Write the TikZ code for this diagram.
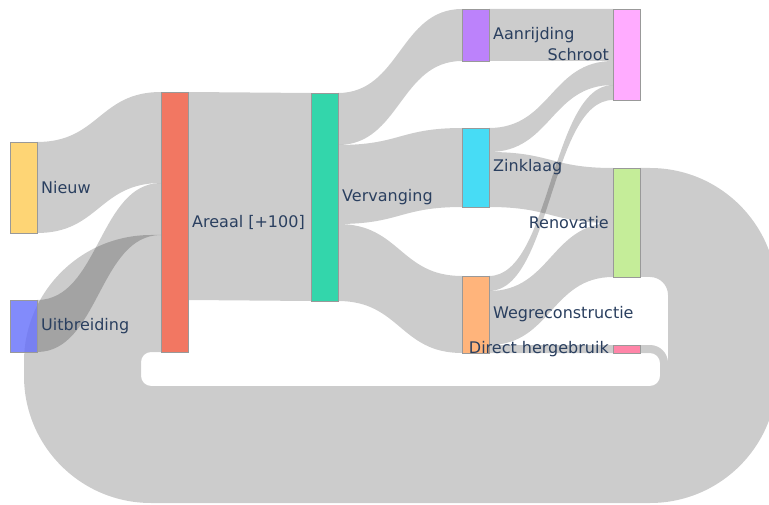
\documentclass[tikz,border=0pt]{standalone}
\usepackage{fontspec}
\setmainfont{DejaVu Sans}
\usetikzlibrary{calc,positioning,backgrounds}

\definecolor{labelc}{HTML}{2A3F5F}
\definecolor{nieuwc}{HTML}{FECB52}
\definecolor{uitbreidingc}{HTML}{636EFA}
\definecolor{areaalc}{HTML}{EF553B}
\definecolor{vervangingc}{HTML}{00CC96}
\definecolor{aanrijdingc}{HTML}{AB63FA}
\definecolor{zinklaagc}{HTML}{19D3F3}
\definecolor{wegreconc}{HTML}{FFA15A}
\definecolor{schrootc}{HTML}{FF97FF}
\definecolor{renovatiec}{HTML}{B6E880}
\definecolor{hergebruikc}{HTML}{FF6692}

\tikzset{
  bar/.style={draw=black!40, line width=0.4pt, fill opacity=0.8, minimum width=27pt,
    inner sep=0pt, outer sep=0pt, anchor=north west},
  band/.style={fill=black, fill opacity=0.2},
  lbl/.style={text=labelc, font=\fontsize{16}{19}\selectfont, inner sep=0pt}
}

% source, offset at source, target, offset at target, width
\newcommand{\sankeylink}[5]{%
  \fill[band] ($(#1.north east)+(0,#2)$) .. controls +(62,0) and +(-62,0) .. ($(#3.north west)+(0,#4)$)
    -- ++(0,#5) .. controls +(-62,0) and +(62,0) .. ($(#1.north east)+(0,#2+#5)$) -- cycle;}

\begin{document}
\begin{tikzpicture}[x=1pt, y=-1pt]
    \useasboundingbox (0,0) rectangle (769,505);

    % Nodes, one column after the other
    \node[bar, fill=nieuwc, minimum height=91pt] (nieuw) at (10,142) {};
    \node[bar, fill=uitbreidingc, minimum height=52pt] (uitbreiding) at (10,300) {};
    \node[bar, fill=areaalc, minimum height=260pt] (areaal) at (161,92) {};
    \node[bar, fill=vervangingc, minimum height=208pt] (vervanging) at (311,93) {};
    \node[bar, fill=aanrijdingc, minimum height=52pt] (aanrijding) at (462,9) {};
    \node[bar, fill=zinklaagc, minimum height=79pt] (zinklaag) at (462,128) {};
    \node[bar, fill=wegreconc, minimum height=77pt] (wegrecon) at (462,276) {};
    \node[bar, fill=schrootc, minimum height=91pt] (schroot) at (613,9) {};
    \node[bar, fill=renovatiec, minimum height=109pt] (renovatie) at (613,168) {};
    \node[bar, fill=hergebruikc, minimum height=8pt] (hergebruik) at (613,345) {};

    \begin{scope}[on background layer]
        \clip (0,0) rectangle (769,505);

        % Links between columns
        \sankeylink{nieuw}{0}{areaal}{0}{91}
        \sankeylink{uitbreiding}{0}{areaal}{91}{52}
        \sankeylink{areaal}{0}{vervanging}{0}{208}
        \sankeylink{vervanging}{0}{aanrijding}{0}{52}
        \sankeylink{vervanging}{52}{zinklaag}{0}{79}
        \sankeylink{vervanging}{131}{wegrecon}{0}{77}
        \sankeylink{aanrijding}{0}{schroot}{0}{52}
        \sankeylink{zinklaag}{0}{schroot}{52}{24}
        \sankeylink{zinklaag}{24}{renovatie}{0}{55}
        \sankeylink{wegrecon}{0}{schroot}{76}{15}
        \sankeylink{wegrecon}{15}{renovatie}{55}{54}
        \sankeylink{wegrecon}{69}{hergebruik}{0}{8}

        % Loops back to Areaal round the bottom (one fill, so no seam between them)
        \fill[band] (renovatie.north east) -- (650,168) arc[start angle=90, end angle=0, radius=127pt]
            -- (777,376) arc[start angle=0, end angle=-90, radius=127pt]
            -- (151,503) arc[start angle=270, end angle=180, radius=127pt]
            -- (24,362) arc[start angle=180, end angle=90, radius=127pt]
            -- ($(areaal.north west)+(0,143)$) -- ($(areaal.north west)+(0,252)$)
            -- (151,344) arc[start angle=90, end angle=180, radius=18pt]
            -- (133,376) arc[start angle=180, end angle=270, radius=18pt]
            -- (650,394) arc[start angle=270, end angle=360, radius=18pt]
            -- (668,295) arc[start angle=0, end angle=90, radius=18pt]
            -- (renovatie.south east) -- cycle
            (hergebruik.north east) -- (650,345) arc[start angle=90, end angle=0, radius=18pt]
            -- (668,376) arc[start angle=0, end angle=-90, radius=18pt]
            -- (151,394) arc[start angle=270, end angle=180, radius=18pt]
            -- (133,362) arc[start angle=180, end angle=90, radius=18pt]
            -- ($(areaal.north west)+(0,252)$) -- (areaal.south west)
            -- (151,352) arc[start angle=90, end angle=180, radius=10pt]
            -- (141,376) arc[start angle=180, end angle=270, radius=10pt]
            -- (650,386) arc[start angle=270, end angle=360, radius=10pt]
            -- (660,363) arc[start angle=0, end angle=90, radius=10pt]
            -- (hergebruik.south east) -- cycle;
    \end{scope}

    % Labels
    \node[lbl, right=4pt of nieuw] {Nieuw};
    \node[lbl, right=4pt of uitbreiding] {Uitbreiding};
    \node[lbl, right=4pt of areaal] {Areaal [+100]};
    \node[lbl, right=4pt of vervanging] {Vervanging};
    \node[lbl, right=4pt of aanrijding] {Aanrijding};
    \node[lbl, left=4pt of schroot] {Schroot};
    \node[lbl, right=4pt of zinklaag] {Zinklaag};
    \node[lbl, left=4pt of renovatie] {Renovatie};
    \node[lbl, right=4pt of wegrecon] {Wegreconstructie};
    \node[lbl, left=4pt of hergebruik] {Direct hergebruik};
\end{tikzpicture}
\end{document}
